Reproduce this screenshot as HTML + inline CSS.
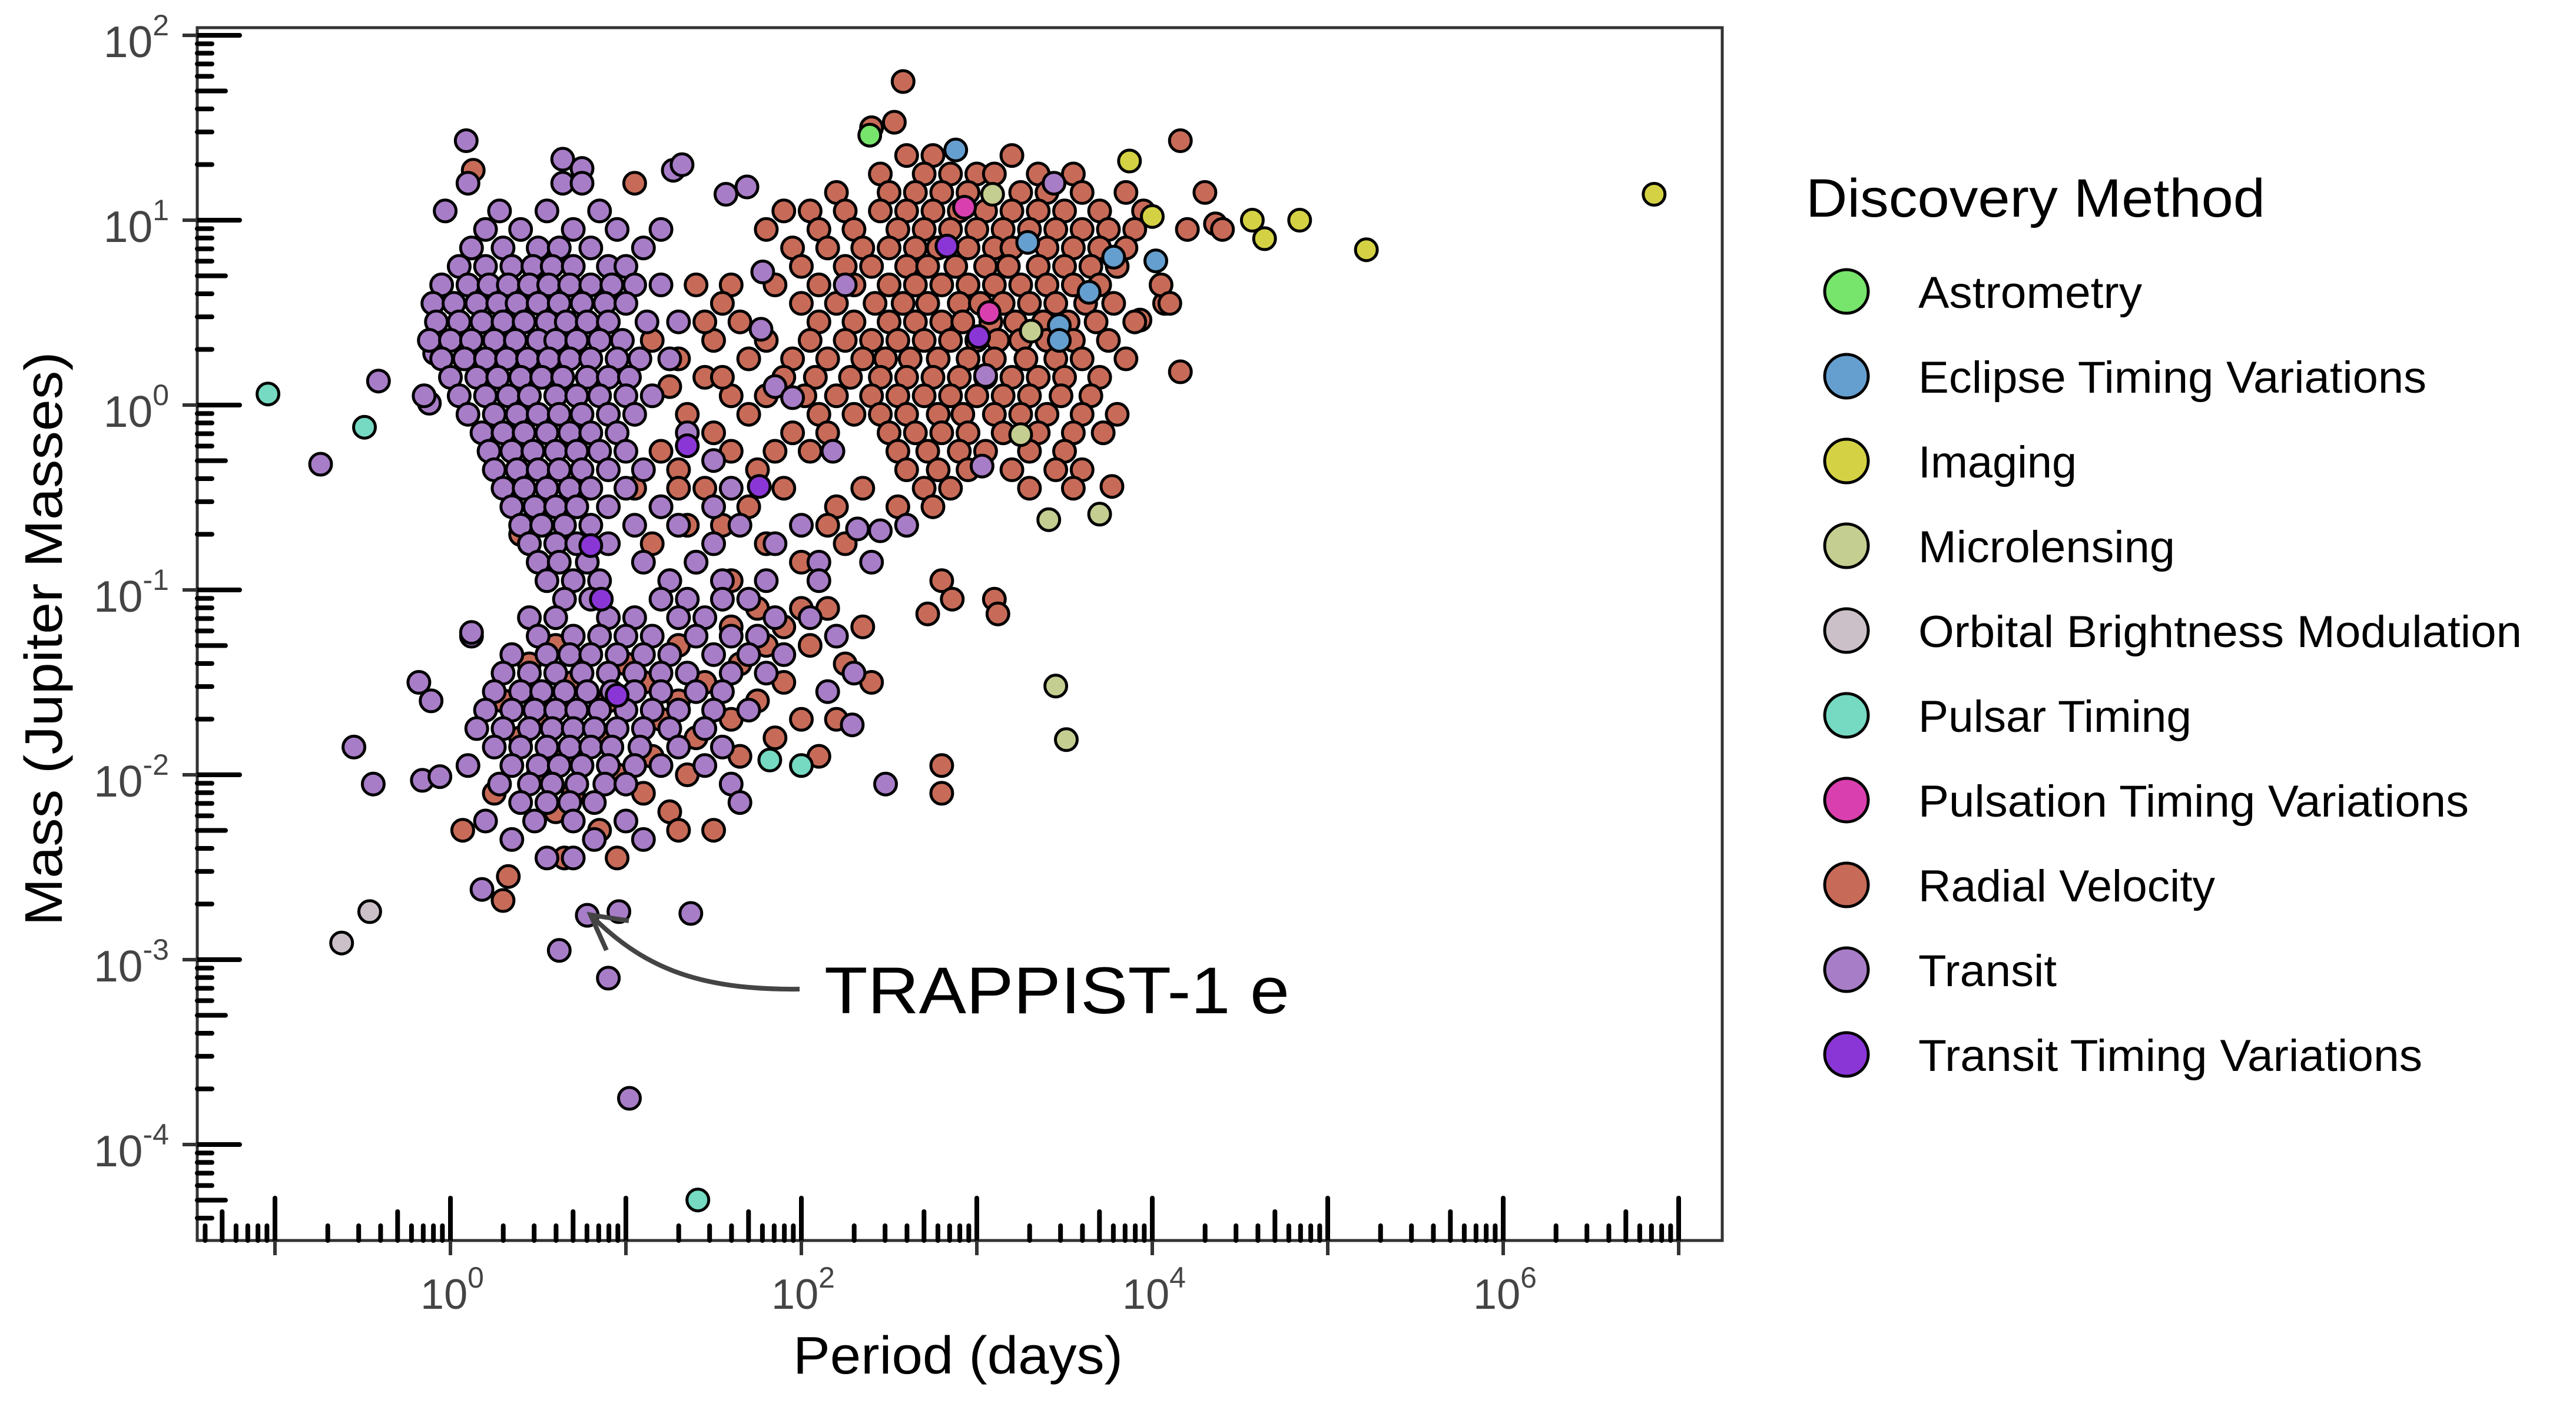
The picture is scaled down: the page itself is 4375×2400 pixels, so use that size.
<!DOCTYPE html>
<html><head><meta charset="utf-8"><title>Exoplanets: Period vs Mass</title>
<style>
html,body{margin:0;padding:0;background:#fff;}
svg{display:block;font-family:"Liberation Sans","DejaVu Sans",sans-serif;}
</style></head>
<body>
<svg id="chart" width="4375" height="2400" viewBox="0 0 4375 2400" xmlns="http://www.w3.org/2000/svg">
  <rect width="4375" height="2400" fill="#fff"/>
  <defs><clipPath id="plotclip"><rect x="335" y="47" width="2590" height="2060"/></clipPath></defs>
  <g id="points" clip-path="url(#plotclip)"></g>
  <rect x="335" y="47" width="2590" height="2060" fill="none" stroke="#333" stroke-width="5"/>
  <g id="xticks"></g>
  <g id="yticks"></g>
  <text x="1627" y="2333" font-size="90" text-anchor="middle" fill="#000" textLength="560" lengthAdjust="spacingAndGlyphs">Period (days)</text>
  <text transform="translate(105,1085) rotate(-90)" font-size="90" text-anchor="middle" fill="#000" textLength="975" lengthAdjust="spacingAndGlyphs">Mass (Jupiter Masses)</text>
  <g>
    <path d="M1358,1680 C1180,1682 1090,1640 1005,1556" fill="none" stroke="#444" stroke-width="8"/>
    <path d="M1068,1564 L1003,1554 L1030,1614" fill="none" stroke="#444" stroke-width="8"/>
    <text x="1400" y="1721" font-size="112" fill="#000" textLength="790" lengthAdjust="spacingAndGlyphs">TRAPPIST-1 e</text>
  </g>
  <g id="legend">
    <text x="3067" y="368" font-size="92" fill="#000" textLength="780" lengthAdjust="spacingAndGlyphs">Discovery Method</text>
  </g>
</svg>
<script>
// Each point: [log10(period in days), log10(mass in Jupiter masses)]
const categories = ["Astrometry","Eclipse Timing Variations","Imaging","Microlensing","Orbital Brightness Modulation","Pulsar Timing","Pulsation Timing Variations","Radial Velocity","Transit","Transit Timing Variations"];
const colors = ["#77e46b","#659fcf","#d4d244","#c5ce91","#cbc0c8","#76d9c2","#d93fae","#c76b58","#a87dc7","#8a36d6"];
const legendWidths = [380,863,269,436,1025,464,935,504,235,856];

const astrometry = [[2.39,1.46]];
const eclipseTiming = [[2.88,1.38],[3.29,0.88],[3.78,0.80],[4.02,0.78],[3.64,0.61],[3.47,0.43],[3.47,0.35]];
const imaging = [[3.87,1.32],[4.0,1.02],[4.57,1.0],[4.64,0.90],[4.84,1.0],[5.22,0.84],[6.86,1.14]];
const microlensing = [[3.09,1.14],[3.31,0.40],[3.25,-0.16],[3.41,-0.62],[3.70,-0.59],[3.45,-1.52],[3.51,-1.81]];
const orbitalBrightness = [[-0.62,-2.91],[-0.46,-2.74]];
const pulsarTiming = [[-1.04,0.06],[-0.49,-0.12],[1.41,-4.30],[1.82,-1.92],[2.0,-1.95]];
const pulsationTiming = [[2.93,1.07],[3.07,0.50]];
const transitTiming = [[2.83,0.86],[3.01,0.37],[1.35,-0.22],[1.76,-0.44],[0.80,-0.76],[0.86,-1.05],[0.95,-1.57]];

const radialVelocity = [
[2.58,1.75],[2.53,1.53],[2.4,1.5],[4.16,1.43],[4.36,0.98],[4.16,0.18],[4.07,0.55],[3.93,0.46],[3.77,-0.44],[0.13,1.27],
[2.6,1.35],[2.75,1.35],[3.2,1.35],
[2.45,1.25],[2.7,1.25],[2.85,1.25],[3.0,1.25],[3.1,1.25],[3.35,1.25],[3.55,1.25],
[2.2,1.15],[2.5,1.15],[2.65,1.15],[2.8,1.15],[2.95,1.15],[3.25,1.15],[3.4,1.15],[3.6,1.15],[3.85,1.15],[4.3,1.15],
[1.9,1.05],[2.05,1.05],[2.25,1.05],[2.45,1.05],[2.6,1.05],[2.75,1.05],[2.9,1.05],[3.05,1.05],[3.2,1.05],[3.35,1.05],[3.5,1.05],[3.7,1.05],[3.95,1.05],
[1.8,0.95],[2.1,0.95],[2.3,0.95],[2.55,0.95],[2.7,0.95],[2.85,0.95],[3.0,0.95],[3.15,0.95],[3.3,0.95],[3.45,0.95],[3.6,0.95],[3.75,0.95],[3.9,0.95],[4.2,0.95],[4.4,0.95],
[1.95,0.85],[2.15,0.85],[2.35,0.85],[2.5,0.85],[2.65,0.85],[2.78,0.85],[2.95,0.85],[3.1,0.85],[3.2,0.85],[3.4,0.85],[3.55,0.85],[3.7,0.85],[3.85,0.85],
[2.0,0.75],[2.25,0.75],[2.4,0.75],[2.6,0.75],[2.72,0.75],[2.88,0.75],[3.05,0.75],[3.18,0.75],[3.35,0.75],[3.5,0.75],[3.65,0.75],[3.8,0.75],
[1.4,0.65],[1.6,0.65],[1.85,0.65],[2.1,0.65],[2.3,0.65],[2.5,0.65],[2.65,0.65],[2.8,0.65],[2.95,0.65],[3.1,0.65],[3.25,0.65],[3.4,0.65],[3.55,0.65],[3.7,0.65],[4.05,0.65],
[1.55,0.55],[2.0,0.55],[2.2,0.55],[2.42,0.55],[2.58,0.55],[2.72,0.55],[2.9,0.55],[3.02,0.55],[3.15,0.55],[3.3,0.55],[3.45,0.55],[3.62,0.55],[3.78,0.55],[4.1,0.55],
[1.65,0.45],[2.1,0.45],[2.3,0.45],[2.5,0.45],[2.65,0.45],[2.8,0.45],[2.92,0.45],[3.08,0.45],[3.22,0.45],[3.38,0.45],[3.52,0.45],[3.68,0.45],[3.9,0.45],
[1.5,0.35],[1.8,0.35],[2.05,0.35],[2.25,0.35],[2.4,0.35],[2.55,0.35],[2.7,0.35],[2.85,0.35],[3.0,0.35],[3.12,0.35],[3.25,0.35],[3.4,0.35],[3.55,0.35],[3.75,0.35],
[1.3,0.25],[1.7,0.25],[1.95,0.25],[2.15,0.25],[2.35,0.25],[2.48,0.25],[2.62,0.25],[2.78,0.25],[2.95,0.25],[3.1,0.25],[3.28,0.25],[3.45,0.25],[3.6,0.25],[3.85,0.25],
[1.45,0.15],[1.9,0.15],[2.08,0.15],[2.28,0.15],[2.45,0.15],[2.6,0.15],[2.75,0.15],[2.9,0.15],[3.05,0.15],[3.2,0.15],[3.35,0.15],[3.5,0.15],[3.7,0.15],
[1.6,0.05],[1.8,0.05],[2.02,0.05],[2.2,0.05],[2.4,0.05],[2.55,0.05],[2.7,0.05],[2.85,0.05],[3.0,0.05],[3.15,0.05],[3.3,0.05],[3.48,0.05],[3.65,0.05],
[1.35,-0.05],[1.7,-0.05],[2.1,-0.05],[2.3,-0.05],[2.45,-0.05],[2.6,-0.05],[2.78,-0.05],[2.92,-0.05],[3.1,-0.05],[3.25,-0.05],[3.4,-0.05],[3.6,-0.05],[3.8,-0.05],
[1.5,-0.15],[1.95,-0.15],[2.15,-0.15],[2.5,-0.15],[2.65,-0.15],[2.8,-0.15],[2.95,-0.15],[3.15,-0.15],[3.35,-0.15],[3.55,-0.15],[3.72,-0.15],
[1.2,-0.25],[1.6,-0.25],[1.85,-0.25],[2.05,-0.25],[2.55,-0.25],[2.72,-0.25],[2.9,-0.25],[3.05,-0.25],[3.3,-0.25],[3.5,-0.25],
[1.3,-0.35],[1.75,-0.35],[2.6,-0.35],[2.78,-0.35],[2.95,-0.35],[3.2,-0.35],[3.45,-0.35],[3.6,-0.35],
[1.05,-0.45],[1.45,-0.45],[1.9,-0.45],[2.35,-0.45],[2.7,-0.45],[2.85,-0.45],[3.3,-0.45],[3.55,-0.45],
[1.2,-0.55],[1.7,-0.55],[2.2,-0.55],[2.55,-0.55],[2.75,-0.55],
[1.35,-0.65],[1.55,-0.65],[2.15,-0.65],[2.6,-0.65],
[1.15,-0.75],[1.8,-0.75],[2.25,-0.75],
[1.4,-0.85],[2.0,-0.85],
[1.25,-0.95],[1.6,-0.95],[2.8,-0.95],[2.86,-1.05],[3.1,-1.05],[2.72,-1.13],[3.12,-1.13],[2.80,-1.95],
[0.7,-0.1],[0.4,-0.7],[1.15,0.35],[1.25,0.1],[1.45,0.45],[1.55,0.15],[1.3,-0.45],[1.05,1.2],
[1.75,-1.1],[2.0,-1.1],[2.15,-1.1],
[1.6,-1.2],[1.9,-1.2],[2.35,-1.2],
[0.6,-1.3],[1.3,-1.3],[1.8,-1.3],[2.05,-1.3],
[0.45,-1.4],[1.0,-1.4],[1.65,-1.4],[2.25,-1.4],
[0.7,-1.5],[1.1,-1.5],[1.45,-1.5],[1.9,-1.5],[2.4,-1.5],
[0.3,-1.6],[0.9,-1.6],[1.3,-1.6],[1.75,-1.6],
[0.55,-1.7],[1.2,-1.7],[1.6,-1.7],[2.0,-1.7],[2.2,-1.7],
[0.4,-1.8],[0.85,-1.8],[1.4,-1.8],[1.85,-1.8],
[0.65,-1.9],[1.15,-1.9],[1.65,-1.9],[2.1,-1.9],
[0.5,-2.0],[0.95,-2.0],[1.35,-2.0],
[0.25,-2.1],[0.7,-2.1],[1.1,-2.1],[2.8,-2.1],
[0.6,-2.2],[1.25,-2.2],
[0.85,-2.3],[1.3,-2.3],[1.5,-2.3],[0.07,-2.3],
[0.65,-2.45],[0.95,-2.45],[0.33,-2.55],[0.3,-2.68]
];

const transit = [
[0.09,1.43],[0.64,1.33],[0.75,1.28],[1.27,1.27],[1.32,1.30],[1.57,1.14],[1.69,1.18],[-0.03,1.05],[-0.74,-0.32],[-0.41,0.13],[-0.12,0.01],[-0.09,0.28],
[0.1,1.2],[0.64,1.2],[0.75,1.2],
[0.28,1.05],[0.55,1.05],[0.85,1.05],
[0.2,0.95],[0.4,0.95],[0.7,0.95],[0.95,0.95],[1.2,0.95],
[0.12,0.85],[0.3,0.85],[0.5,0.85],[0.62,0.85],[0.8,0.85],[1.1,0.85],
[0.05,0.75],[0.2,0.75],[0.35,0.75],[0.47,0.75],[0.58,0.75],[0.7,0.75],[0.9,0.75],[1.0,0.75],
[-0.05,0.65],[0.1,0.65],[0.22,0.65],[0.33,0.65],[0.45,0.65],[0.56,0.65],[0.68,0.65],[0.8,0.65],[0.92,0.65],[1.05,0.65],[1.2,0.65],
[-0.1,0.55],[0.02,0.55],[0.15,0.55],[0.27,0.55],[0.38,0.55],[0.5,0.55],[0.62,0.55],[0.75,0.55],[0.88,0.55],[1.0,0.55],
[-0.08,0.45],[0.05,0.45],[0.18,0.45],[0.3,0.45],[0.42,0.45],[0.55,0.45],[0.66,0.45],[0.78,0.45],[0.9,0.45],[1.12,0.45],[1.3,0.45],
[-0.12,0.35],[0.0,0.35],[0.12,0.35],[0.25,0.35],[0.37,0.35],[0.5,0.35],[0.6,0.35],[0.72,0.35],[0.85,0.35],[0.98,0.35],
[-0.05,0.25],[0.08,0.25],[0.2,0.25],[0.32,0.25],[0.44,0.25],[0.56,0.25],[0.68,0.25],[0.8,0.25],[0.95,0.25],[1.08,0.25],[1.25,0.25],
[0.0,0.15],[0.15,0.15],[0.27,0.15],[0.4,0.15],[0.52,0.15],[0.64,0.15],[0.78,0.15],[0.9,0.15],[1.02,0.15],
[-0.15,0.05],[0.05,0.05],[0.2,0.05],[0.33,0.05],[0.45,0.05],[0.6,0.05],[0.72,0.05],[0.85,0.05],[1.0,0.05],[1.15,0.05],
[0.1,-0.05],[0.25,-0.05],[0.38,-0.05],[0.5,-0.05],[0.62,-0.05],[0.75,-0.05],[0.9,-0.05],[1.05,-0.05],
[0.18,-0.15],[0.3,-0.15],[0.42,-0.15],[0.55,-0.15],[0.68,-0.15],[0.8,-0.15],[0.95,-0.15],[1.35,-0.15],
[0.22,-0.25],[0.35,-0.25],[0.47,-0.25],[0.6,-0.25],[0.72,-0.25],[0.85,-0.25],[1.0,-0.25],
[0.25,-0.35],[0.38,-0.35],[0.5,-0.35],[0.62,-0.35],[0.75,-0.35],[0.9,-0.35],[1.1,-0.35],
[0.3,-0.45],[0.42,-0.45],[0.55,-0.45],[0.68,-0.45],[0.8,-0.45],[1.0,-0.45],[1.6,-0.45],
[0.35,-0.55],[0.48,-0.55],[0.6,-0.55],[0.72,-0.55],[0.9,-0.55],[1.2,-0.55],[1.5,-0.55],
[0.4,-0.65],[0.52,-0.65],[0.65,-0.65],[0.8,-0.65],[1.05,-0.65],[1.3,-0.65],[1.65,-0.65],[2.0,-0.65],
[0.45,-0.75],[0.6,-0.75],[0.72,-0.75],[0.9,-0.75],[1.5,-0.75],[1.85,-0.75],
[0.5,-0.85],[0.62,-0.85],[0.78,-0.85],[1.1,-0.85],[1.4,-0.85],[2.1,-0.85],[2.4,-0.85],
[0.55,-0.95],[0.7,-0.95],[0.85,-0.95],[1.25,-0.95],[1.55,-0.95],[1.8,-0.95],
[1.77,0.41],[1.85,0.1],[1.95,0.04],[2.18,-0.25],[2.32,-0.67],[2.45,-0.68],[2.1,-0.95],[1.5,-0.3],
[3.44,1.2],[3.05,0.16],[3.03,-0.33],[2.25,0.65],[2.6,-0.65],[1.78,0.72],
[0.65,-1.05],[0.8,-1.05],[1.2,-1.05],[1.35,-1.05],[1.55,-1.05],[1.7,-1.05],
[0.45,-1.15],[0.6,-1.15],[0.9,-1.15],[1.05,-1.15],[1.3,-1.15],[1.45,-1.15],[1.85,-1.15],[2.05,-1.15],
[0.12,-1.25],[0.5,-1.25],[0.7,-1.25],[0.85,-1.25],[1.0,-1.25],[1.15,-1.25],[1.4,-1.25],[1.6,-1.25],[1.75,-1.25],[2.2,-1.25],
[0.35,-1.35],[0.55,-1.35],[0.68,-1.35],[0.8,-1.35],[0.95,-1.35],[1.1,-1.35],[1.25,-1.35],[1.5,-1.35],[1.7,-1.35],[1.9,-1.35],
[0.3,-1.45],[0.45,-1.45],[0.6,-1.45],[0.75,-1.45],[0.9,-1.45],[1.05,-1.45],[1.2,-1.45],[1.35,-1.45],[1.6,-1.45],[1.8,-1.45],[2.3,-1.45],
[0.25,-1.55],[0.4,-1.55],[0.52,-1.55],[0.65,-1.55],[0.78,-1.55],[0.92,-1.55],[1.05,-1.55],[1.2,-1.55],[1.4,-1.55],[1.55,-1.55],[2.15,-1.55],
[0.2,-1.65],[0.35,-1.65],[0.48,-1.65],[0.6,-1.65],[0.72,-1.65],[0.85,-1.65],[1.0,-1.65],[1.15,-1.65],[1.3,-1.65],[1.5,-1.65],[1.7,-1.65],
[0.15,-1.75],[0.3,-1.75],[0.45,-1.75],[0.58,-1.75],[0.7,-1.75],[0.82,-1.75],[0.95,-1.75],[1.1,-1.75],[1.25,-1.75],[1.45,-1.75],
[0.25,-1.85],[0.4,-1.85],[0.55,-1.85],[0.68,-1.85],[0.8,-1.85],[0.92,-1.85],[1.08,-1.85],[1.3,-1.85],[1.55,-1.85],
[0.1,-1.95],[0.35,-1.95],[0.5,-1.95],[0.62,-1.95],[0.75,-1.95],[0.9,-1.95],[1.05,-1.95],[1.2,-1.95],[1.45,-1.95],
[0.28,-2.05],[0.45,-2.05],[0.58,-2.05],[0.72,-2.05],[0.88,-2.05],[1.0,-2.05],[1.6,-2.05],[2.48,-2.05],
[0.4,-2.15],[0.55,-2.15],[0.68,-2.15],[0.82,-2.15],[1.65,-2.15],
[0.2,-2.25],[0.48,-2.25],[0.7,-2.25],[1.0,-2.25],
[0.35,-2.35],[0.82,-2.35],[1.1,-2.35],
[0.55,-2.45],[0.7,-2.45],
[-0.18,-1.50],[-0.11,-1.60],[-0.55,-1.85],[-0.44,-2.05],[-0.16,-2.03],[-0.06,-2.01],[0.12,-1.23],[0.18,-2.62],
[0.78,-2.76],[0.96,-2.74],[1.37,-2.75],[0.62,-2.95],[0.90,-3.10],[1.02,-3.75],[2.29,-1.73]
];

const seriesList = [
  {cat:7, name:"radial-velocity", pts:radialVelocity},
  {cat:8, name:"transit", pts:transit},
  {cat:0, name:"astrometry", pts:astrometry},
  {cat:1, name:"eclipse-timing", pts:eclipseTiming},
  {cat:2, name:"imaging", pts:imaging},
  {cat:3, name:"microlensing", pts:microlensing},
  {cat:4, name:"orbital-brightness", pts:orbitalBrightness},
  {cat:5, name:"pulsar-timing", pts:pulsarTiming},
  {cat:6, name:"pulsation-timing", pts:pulsationTiming},
  {cat:9, name:"transit-timing", pts:transitTiming}
];
const xTickExps = [0,2,4,6];
const yTickExps = [-4,-3,-2,-1,0,1,2];

const NS = "http://www.w3.org/2000/svg";
const X0 = 335, X1 = 2925, Y0 = 47, Y1 = 2107;
function xScale(lp){ return 765 + 298*lp; }
function yScale(lm){ return 688 - 314*lm; }
function mk(tag, attrs, parent){ const e=document.createElementNS(NS,tag); for(const k in attrs) e.setAttribute(k,attrs[k]); parent.appendChild(e); return e; }

const gp = document.getElementById('points');
seriesList.forEach(s=>{
  const g = mk('g',{},gp);
  
  
  s.pts.forEach(p=>{
    const c = mk('circle',{cx:xScale(p[0]).toFixed(1), cy:yScale(p[1]).toFixed(1), r:18.5, fill:colors[s.cat], stroke:'#000', 'stroke-width':5},g);
    
    
  });
});

// X axis ticks
const gx = document.getElementById('xticks');
for(let d=-2; d<=7; d++){
  for(let k=1;k<=9;k++){
    const x = xScale(d+Math.log10(k));
    if(x<X0+4 || x>X1-4) continue;
    const len = k===1?72:(k===5?49:25);
    const t = mk('line',{x1:x,x2:x,y1:Y1,y2:Y1-len,stroke:'#000','stroke-width':8,'stroke-linecap':'round'},gx);
    
    
    if(k===1){ mk('line',{x1:x,x2:x,y1:Y1,y2:Y1+25,stroke:'#333','stroke-width':6},gx); }
  }
}
xTickExps.forEach(e=>{
  const t = mk('text',{x:xScale(e)+3,y:2223,'font-size':72,'text-anchor':'middle',fill:'#444'},gx);
  
  
  const a = mk('tspan',{},t); a.textContent='10';
  const b = mk('tspan',{dy:-36,'font-size':50},t); b.textContent=String(e);
});
// Y axis ticks
const gy = document.getElementById('yticks');
for(let d=-5; d<=2; d++){
  for(let k=1;k<=9;k++){
    const y = yScale(d+Math.log10(k));
    if(y<Y0+4 || y>Y1-4) continue;
    const len = k===1?72:(k===5?48:25);
    const t = mk('line',{x1:X0,x2:X0+len,y1:y,y2:y,stroke:'#000','stroke-width':8,'stroke-linecap':'round'},gy);
    
    
    if(k===1){ mk('line',{x1:X0-25,x2:X0,y1:y,y2:y,stroke:'#333','stroke-width':6},gy); }
  }
}
yTickExps.forEach(e=>{
  const y = yScale(e);
  const t = mk('text',{x:287,y:y+37,'font-size':75,'text-anchor':'end',fill:'#444'},gy);
  
  
  const a = mk('tspan',{},t); a.textContent='10';
  const b = mk('tspan',{dy:-37,'font-size':50},t); b.textContent = e<0 ? '-'+Math.abs(e) : String(e);
});
// Legend
const gl = document.getElementById('legend');
categories.forEach((c,i)=>{
  const cy = 495 + 144.0*i;
  const g = mk('g',{},gl);
  
  
  const m = mk('circle',{cx:3136,cy:cy,r:37,fill:colors[i],stroke:'#000','stroke-width':5},g);
  
  
  const t = mk('text',{x:3258,y:cy+28,'font-size':76,fill:'#000',textLength:legendWidths[i],lengthAdjust:'spacingAndGlyphs'},g);
  
  
  t.textContent = c;
});
</script>
</body></html>
